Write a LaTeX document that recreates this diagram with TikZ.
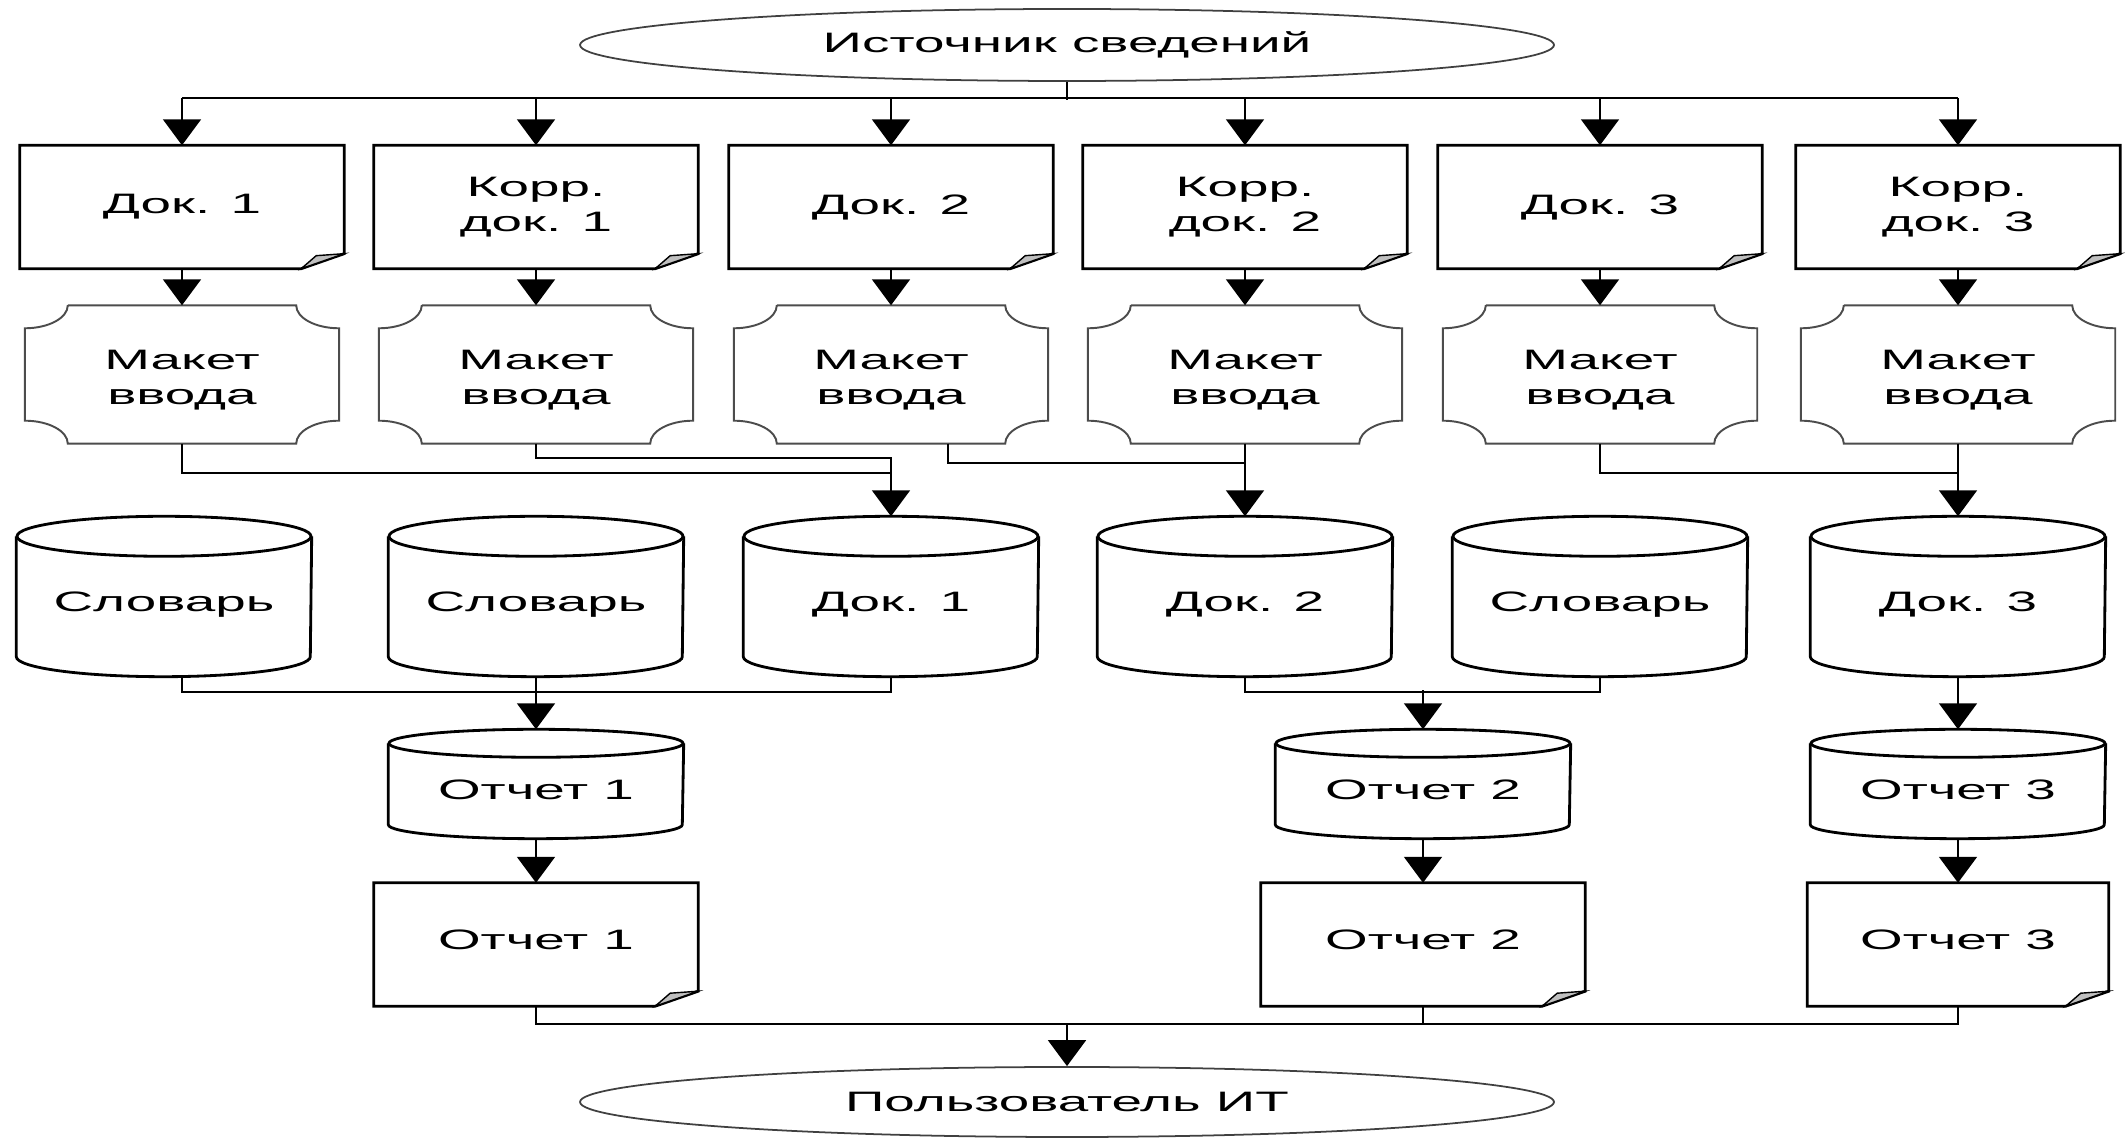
\documentclass[tikz,border=0pt]{standalone}
\usepackage{fontspec}
\setmainfont{Liberation Sans}[FakeStretch=1.95]
\usetikzlibrary{calc,shapes.geometric,arrows.meta}

\tikzset{
  txt/.style={inner sep=0pt, align=center, font=\fontsize{8}{10}\selectfont},
  doc/.style={txt, minimum width=32.3mm, minimum height=12.2mm},
  maket/.style={txt, minimum width=31.3mm, minimum height=13.7mm, text height=18.5pt, text depth=1.4pt},
  baza/.style={txt, minimum width=29.4mm, minimum height=15.9mm, text height=10.5pt, text depth=1.7pt},
  otch/.style={txt, minimum width=29.4mm, minimum height=10.8mm, text height=8.7pt, text depth=0pt},
  oval/.style={txt, ellipse, draw=black!75, line width=0.5pt, minimum width=97.4mm},
  wire/.style={line width=0.6pt},
  arr/.style={wire, -{Triangle[length=7.4pt,width=10.8pt]}},
  contour/.style={line width=0.8pt},
  ramka/.style={line width=0.55pt, draw=black!70},
}

\begin{document}
\begin{tikzpicture}[x=0.1mm,y=0.1mm]
        \useasboundingbox (0,0) rectangle (2125,1145);

        \node[oval, minimum height=7.2mm] (src) at (1067,1100) {Источник сведений};
        \node[oval, minimum height=7.0mm] (usr) at (1067,43) {Пользователь ИТ};

        % Документы
        \node[doc] (d1) at (182,938) {Док. 1};
        \node[doc] (d2) at (536,938) {Корр.\\док. 1};
        \node[doc] (d3) at (891,938) {Док. 2};
        \node[doc] (d4) at (1245,938) {Корр.\\док. 2};
        \node[doc] (d5) at (1600,938) {Док. 3};
        \node[doc] (d6) at (1958,938) {Корр.\\док. 3};

        % Макеты ввода
        \node[maket] (m1) at (182,770.5) {Макет\\ввода};
        \node[maket] (m2) at (536,770.5) {Макет\\ввода};
        \node[maket] (m3) at (891,770.5) {Макет\\ввода};
        \node[maket] (m4) at (1245,770.5) {Макет\\ввода};
        \node[maket] (m5) at (1600,770.5) {Макет\\ввода};
        \node[maket] (m6) at (1958,770.5) {Макет\\ввода};

        % Базы
        \node[baza] (c1) at (164,548.5) {Словарь};
        \node[baza] (c2) at (536,548.5) {Словарь};
        \node[baza] (c3) at (891,548.5) {Док. 1};
        \node[baza] (c4) at (1245,548.5) {Док. 2};
        \node[baza] (c5) at (1600,548.5) {Словарь};
        \node[baza] (c6) at (1958,548.5) {Док. 3};

        \node[otch] (o1) at (536,361) {Отчет 1};
        \node[otch] (o2) at (1423,361) {Отчет 2};
        \node[otch] (o3) at (1958,361) {Отчет 3};

        \node[doc, text depth=2.8pt] (r1) at (536,200.5) {Отчет 1};
        \node[doc, text depth=2.8pt] (r2) at (1423,200.5) {Отчет 2};
        \node[doc, text depth=2.8pt, minimum width=30mm] (r3) at (1958,200.5) {Отчет 3};

        % Контуры документов
        \foreach \n in {d1,d2,d3,d4,d5,d6,r1,r2,r3}{
            \draw[contour] (\n.north west) -- (\n.north east) -- ($(\n.south east)+(0,15)$)
                -- ($(\n.south east)+(-43,0)$) -- (\n.south west) -- cycle;
            \filldraw[line width=0.4pt, fill=black!25] ($(\n.south east)+(0,15)$)
                -- ($(\n.south east)+(-28,13)$) -- ($(\n.south east)+(-43,0)$) -- cycle;
        }

        % Контуры макетов
        \foreach \i in {1,...,6}{
            \draw[ramka] ($(m\i.north west)+(43,0)$) -- ($(m\i.north east)+(-43,0)$)
                arc[start angle=180, end angle=270, x radius=43, y radius=23]
                -- ($(m\i.south east)+(0,23)$)
                arc[start angle=90, end angle=180, x radius=43, y radius=23]
                -- ($(m\i.south west)+(43,0)$)
                arc[start angle=0, end angle=90, x radius=43, y radius=23]
                -- ($(m\i.north west)+(0,-23)$)
                arc[start angle=270, end angle=360, x radius=43, y radius=23];
        }

        % Цилиндры
        \foreach \n/\ry in {c1/20,c2/20,c3/20,c4/20,c5/20,c6/20,o1/14,o2/14,o3/14}{
            \draw[contour] ($(\n.north west)+(0,-\ry)$) -- ($(\n.south west)+(0,\ry)$)
                arc[start angle=180, end angle=360, x radius=147, y radius=\ry]
                -- ($(\n.north east)+(0,-\ry)$);
            \draw[contour] ($(\n.north)+(0,-\ry)$) ellipse[x radius=147, y radius=\ry];
        }

        % Связи
        \draw[wire] (src.south) -- ++(0,-18);
        \draw[wire] ($(d1.north)+(0,47)$) -- ($(d6.north)+(0,47)$);
        \foreach \i in {1,...,6}{
            \draw[arr] ($(d\i.north)+(0,47)$) -- (d\i.north);
            \draw[arr] (d\i.south) -- (m\i.north);
        }

        \draw[wire] (m1.south) -- ++(0,-29) -| (c3.north);
        \draw[arr] (m2.south) -- ++(0,-14) -| (c3.north);
        \draw[wire] ($(m3.south)+(57,0)$) -- ++(0,-19) -| (c4.north);
        \draw[arr] (m4.south) -- (c4.north);
        \draw[wire] (m5.south) -- ++(0,-29) -| (c6.north);
        \draw[arr] (m6.south) -- (c6.north);

        \draw[wire] ($(c1.south)+(18,0)$) -- ++(0,-15) -| (c3.south);
        \draw[arr] (c2.south) -- (o1.north);
        \draw[wire] (c4.south) -- ++(0,-15) -| (c5.south);
        \draw[arr] ($(o2.north)+(0,39)$) -- (o2.north);
        \draw[arr] (c6.south) -- (o3.north);

        \foreach \i in {1,2,3}
            \draw[arr] (o\i.south) -- (r\i.north);

        \draw[wire] (r1.south) -- ++(0,-18) -| (r3.south);
        \draw[wire] (r2.south) -- ++(0,-18);
        \draw[arr] ($(usr.north)+(0,43)$) -- (usr.north);

    \end{tikzpicture}
\end{document}
